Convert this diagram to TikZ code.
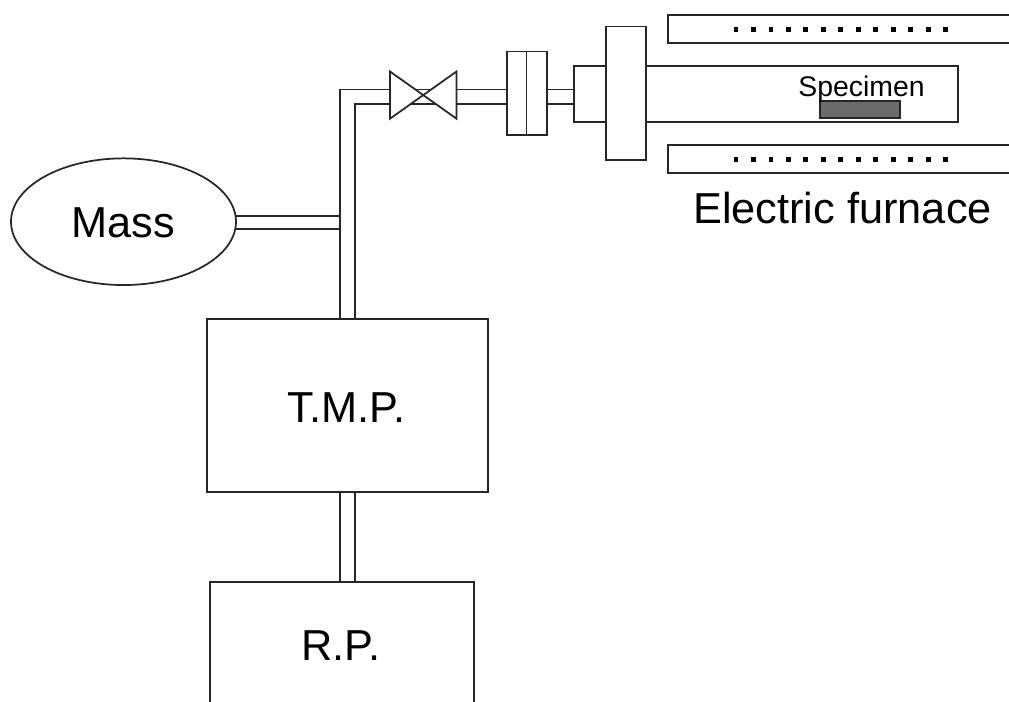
\documentclass[tikz,border=0pt]{standalone}
\usepackage{fontspec}
\setmainfont{Liberation Sans}
\usetikzlibrary{shapes.geometric}
\tikzset{
  line/.style={line width=1.3pt,draw=black!85,line cap=butt},
  part/.style={line,rectangle,inner sep=0pt,outer sep=0pt,fill=white},
  partsize/.style 2 args={minimum width=#1*0.75pt,minimum height=#2*0.75pt},
  dotmark/.style={rectangle,fill=black,inner sep=0pt,minimum width=3.6pt,minimum height=3.6pt},
  bigtext/.style={inner sep=0pt,font=\fontsize{32.5}{36}\selectfont},
  smalltext/.style={inner sep=0pt,font=\fontsize{21.3}{25}\selectfont}
}
\begin{document}
\begin{tikzpicture}[x=0.75pt,y=-0.75pt]
\useasboundingbox (0,0) rectangle (1009,702);
\clip (0,0) rectangle (1009,702);
% pipe reference lines
\coordinate (vL) at (340.2,0);
\coordinate (vR) at (355,0);
\coordinate (hT) at (0,89.5);
\coordinate (hB) at (0,104);
\coordinate (mT) at (0,215.7);
\coordinate (mB) at (0,228.7);
\coordinate (top) at (vL |- hT);
\coordinate (inner) at (vR |- hB);
\coordinate (inTL) at (415.3,89.5);
\coordinate (inTR) at (431.2,89.5);
\coordinate (inBL) at (410.6,104);
\coordinate (inBR) at (435.9,104);
% parts
\node[part,ellipse,partsize={225}{126.7}] (mass) at (123.5,221.7) {};
\node[part,partsize={281.3}{173}] (tmp) at (347.3,405.5) {};
\node[part,partsize={263.7}{140},anchor=north west] (rp) at (210,582) {};
\node[part,partsize={19.5}{83.5},anchor=north west] (flangeA) at (507,51.5) {};
\node[part,partsize={20.2}{83.5},anchor=north west] (flangeB) at (526.5,51.5) {};
\node[part,partsize={32}{55.7},anchor=north west] (adapter) at (574.3,66) {};
\node[part,partsize={312}{55.7},anchor=north west] (tube) at (646.3,66) {};
\node[part,partsize={40}{133.5},anchor=north west] (flangeC) at (606.3,26.5) {};
\node[part,partsize={360}{28},anchor=north west] (furnaceT) at (667.7,14.7) {};
\node[part,partsize={360}{27.7},anchor=north west] (furnaceB) at (667.7,145) {};
\node[part,fill=black!58,line width=1.7pt,partsize={80}{17},anchor=north west] (specimen) at (820.3,101.3) {};
% valve
\coordinate (vaTL) at (390,71.5);
\coordinate (vaBL) at (390,118.7);
\coordinate (vaTR) at (456.5,71.5);
\coordinate (vaBR) at (456.5,118.7);
\draw[line,line join=miter] (vaTL) -- (vaBR) -- (vaTR) -- (vaBL) -- cycle;
% pipes
\draw[line] (vL |- tmp.north) -- (top) -- (vaTL |- hT);
\draw[line] (vR |- tmp.north) -- (inner) -- (vaTL |- hB);
\draw[line] (inTL) -- (inTR);
\draw[line] (inBL) -- (inBR);
\draw[line] (vaTR |- hT) -- (flangeA.west |- hT);
\draw[line] (vaTR |- hB) -- (flangeA.west |- hB);
\draw[line] (flangeB.east |- hT) -- (adapter.west |- hT);
\draw[line] (flangeB.east |- hB) -- (adapter.west |- hB);
\draw[line] (mass.east |- mT) -- (vL |- mT);
\draw[line] (mass.east |- mB) -- (vL |- mB);
\draw[line] (vL |- tmp.south) -- (vL |- rp.north);
\draw[line] (vR |- tmp.south) -- (vR |- rp.north);
% heater dots
\foreach \i in {0,...,12}{
  \node[dotmark] (dt\i) at (736+17.47*\i,29.3) {};
  \node[dotmark] (db\i) at (736+17.47*\i,159.3) {};
}
% texts
\node[bigtext,anchor=base] (massText) at (123.3,238) {Mass};
\node[bigtext,anchor=base] (tmpText) at (346.5,422) {T.M.P.};
\node[bigtext,anchor=base] (rpText) at (341,660) {R.P.};
\node[bigtext,anchor=base] (furnaceText) at (842.5,223.5) {Electric furnace};
\node[smalltext,anchor=base] (specText) at (861.5,96.5) {Specimen};
\end{tikzpicture}
\end{document}
